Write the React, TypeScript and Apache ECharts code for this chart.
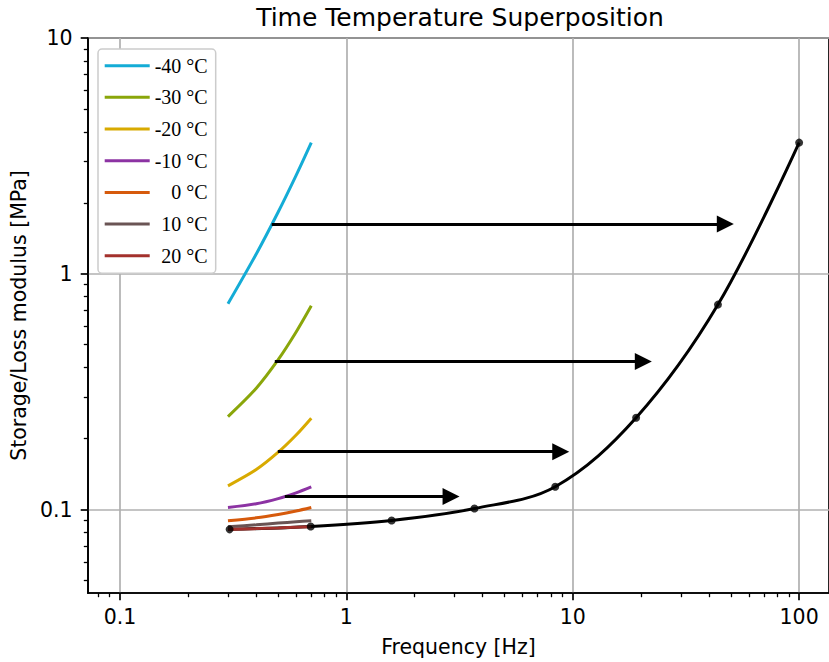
import React, { useEffect, useRef } from 'react';
import * as echarts from 'echarts';

// ---- data ----
const freq = [0.3, 0.4, 0.5, 0.6, 0.7];
const tempLabels = ['-40 °C', '-30 °C', '-20 °C', '-10 °C', '0 °C', '10 °C', '20 °C'];
const tempColors = ['#14acd6', '#8aa60a', '#d8aa00', '#8c33a3', '#d65a0c', '#6a5454', '#a3312c'];
const modulusM40 = [0.746, 1.213, 1.828, 2.615, 3.6];
const modulusM30 = [0.248, 0.327, 0.432, 0.566, 0.731];
const modulusM20 = [0.126, 0.1477, 0.175, 0.207, 0.244];
const modulusM10 = [0.102, 0.1058, 0.1113, 0.1177, 0.1247];
const modulus0 = [0.0896, 0.0922, 0.0953, 0.0986, 0.102];
const modulus10 = [0.0845, 0.0862, 0.0876, 0.0887, 0.0896];
const modulus20 = [0.0823, 0.083, 0.0836, 0.0841, 0.0845];
const masterFreq = [0.305, 0.696, 1.585, 3.68, 8.37, 19.05, 43.8, 100];
const masterModulus = [0.0824, 0.0848, 0.0899, 0.101, 0.125, 0.245, 0.74, 3.6];
const arrowStart = [0.468, 0.483, 0.498, 0.535];
const arrowEnd = [47.2, 20.5, 8.85, 2.9];
const arrowLevel = [1.625, 0.425, 0.176, 0.1135];
const xMajor = [0.1, 1, 10, 100];
const xMinor = [0.08, 0.09, 0.2, 0.3, 0.4, 0.5, 0.6, 0.7, 0.8, 0.9, 2, 3, 4, 5, 6, 7, 8, 9, 20, 30, 40, 50, 60, 70, 80, 90];
const yMajor = [0.1, 1, 10];
const yMinor = [0.05, 0.06, 0.07, 0.08, 0.09, 0.2, 0.3, 0.4, 0.5, 0.6, 0.7, 0.8, 0.9, 2, 3, 4, 5, 6, 7, 8, 9];
const xMin = 0.07225;
const xMax = 135.5;
const yMin = 0.04426;
const yMax = 10;

const modulusSets = [modulusM40, modulusM30, modulusM20, modulusM10, modulus0, modulus10, modulus20];

const SANS = 'DejaVu Sans';
const SERIF = 'Liberation Serif';
const LEGEND_FONT = 20;

const fmt = (v: number) => (v >= 1 ? String(Math.round(v)) : String(+v.toPrecision(1)));

export default function App() {
  const ref = useRef<HTMLDivElement>(null);
  useEffect(() => {
    if (!ref.current) return;
    const chart = echarts.init(ref.current, undefined, { renderer: 'svg' });

    // right-align the numeric part of the legend labels
    const ctx = document.createElement('canvas').getContext('2d');
    const nums = tempLabels.map((l) => l.split(' ')[0]);
    let widths = nums.map((n) => n.length * 10);
    if (ctx) {
      ctx.font = `${LEGEND_FONT}px "${SERIF}"`;
      widths = nums.map((n) => ctx.measureText(n).width);
    }
    const maxW = Math.max(...widths);
    const rich: any = {
      u: { fontFamily: SERIF, fontSize: LEGEND_FONT, lineHeight: 20, color: '#000' },
    };
    nums.forEach((_, k) => {
      rich['n' + k] = {
        fontFamily: SERIF,
        fontSize: LEGEND_FONT,
        lineHeight: 20,
        color: '#000',
        padding: [0, 0, 0, Math.max(0, maxW - widths[k])],
      };
    });

    const majorAxisCommon = {
      type: 'log' as const,
      logBase: 10,
      axisLine: { show: true, onZero: false, lineStyle: { color: '#000', width: 1.7 } },
      splitLine: { show: true, lineStyle: { color: '#b0b0b0', width: 1.7 } },
      minorTick: { show: false },
      minorSplitLine: { show: false },
      nameTextStyle: { fontFamily: SANS, fontSize: 20.5, color: '#000' },
      nameLocation: 'middle' as const,
    };
    const minorAxisCommon = {
      type: 'log' as const,
      logBase: 10,
      axisLine: { show: false },
      axisLabel: { show: false },
      splitLine: { show: false },
      minorTick: { show: false },
    };

    const option: any = {
      animation: false,
      backgroundColor: '#fff',
      grid: {
        left: 88,
        top: 38,
        right: -1,
        bottom: 66,
        show: true,
        borderColor: '#000',
        borderWidth: 1.7,
        backgroundColor: 'transparent',
        containLabel: false,
      },
      graphic: [
        {
          type: 'text',
          x: 460,
          y: 17,
          style: {
            text: 'Time Temperature Superposition',
            font: `25px "${SANS}"`,
            fill: '#000',
            textAlign: 'center',
            textVerticalAlign: 'middle',
          },
        },
      ],
      legend: {
        data: tempLabels,
        orient: 'vertical',
        left: 98,
        top: 49,
        icon: 'rect',
        itemWidth: 45,
        itemHeight: 3,
        itemGap: 11.67,
        padding: [6.7, 8, 7.5, 6.7],
        backgroundColor: '#ffffff',
        borderColor: '#cccccc',
        borderWidth: 1.5,
        borderRadius: 4,
        selectedMode: false,
        formatter: (name: string) => {
          const k = tempLabels.indexOf(name);
          const parts = name.split(' ');
          return `{n${k}|${parts[0]}}{u| ${parts[1]}}`;
        },
        textStyle: {
          fontFamily: SERIF,
          fontSize: LEGEND_FONT,
          lineHeight: 20,
          color: '#000',
          rich,
        },
      },
      xAxis: [
        {
          ...majorAxisCommon,
          min: xMin,
          max: xMax,
          position: 'bottom',
          name: 'Frequency [Hz]',
          nameGap: 43,
          axisTick: { show: true, customValues: xMajor, length: 7.3, lineStyle: { color: '#000', width: 1.7 } },
          axisLabel: { customValues: xMajor, formatter: fmt, fontFamily: SANS, fontSize: 20.5, color: '#000', margin: 13 },
        },
        {
          ...minorAxisCommon,
          min: xMin,
          max: xMax,
          position: 'bottom',
          axisTick: { show: true, customValues: xMinor, length: 4.2, lineStyle: { color: '#000', width: 1.3 } },
        },
      ],
      yAxis: [
        {
          ...majorAxisCommon,
          min: yMin,
          max: yMax,
          position: 'left',
          name: 'Storage/Loss modulus [MPa]',
          nameGap: 52,
          axisTick: { show: true, customValues: yMajor, length: 7.3, lineStyle: { color: '#000', width: 1.7 } },
          axisLabel: { customValues: yMajor, formatter: fmt, fontFamily: SANS, fontSize: 20.5, color: '#000', margin: 15.5 },
        },
        {
          ...minorAxisCommon,
          min: yMin,
          max: yMax,
          position: 'left',
          axisTick: { show: true, customValues: yMinor, length: 4.2, lineStyle: { color: '#000', width: 1.3 } },
        },
      ],
      series: [
        {
          type: 'line',
          name: 'master',
          data: masterFreq.map((f, i) => [f, masterModulus[i]]),
          smooth: 0.35,
          showSymbol: false,
          lineStyle: { color: '#000', width: 3 },
          itemStyle: { color: '#000' },
          z: 2,
          silent: true,
        },
        ...tempLabels.map((name, k) => ({
          type: 'line',
          name,
          data: freq.map((f, i) => [f, modulusSets[k][i]]),
          smooth: 0.3,
          showSymbol: false,
          lineStyle: { color: tempColors[k], width: 3 },
          itemStyle: { color: tempColors[k] },
          z: 3,
          silent: true,
        })),
        {
          type: 'lines',
          coordinateSystem: 'cartesian2d',
          data: arrowStart.map((s, i) => ({ coords: [[s, arrowLevel[i]], [arrowEnd[i], arrowLevel[i]]] })),
          symbol: ['none', 'triangle'],
          symbolSize: 17,
          lineStyle: { color: '#000', width: 3, opacity: 1, curveness: 0 },
          z: 4,
          silent: true,
        },
        {
          type: 'scatter',
          name: 'points',
          data: masterFreq.map((f, i) => [f, masterModulus[i]]),
          symbol: 'circle',
          symbolSize: 8,
          itemStyle: { color: '#000' },
          z: 5,
          silent: true,
        },
      ],
    };
    chart.setOption(option);
    return () => chart.dispose();
  }, []);
  return (
    <div
      ref={ref}
      style={{ position: 'fixed', left: 0, top: 0, width: 829, height: 662, background: '#fff' }}
    />
  );
}
